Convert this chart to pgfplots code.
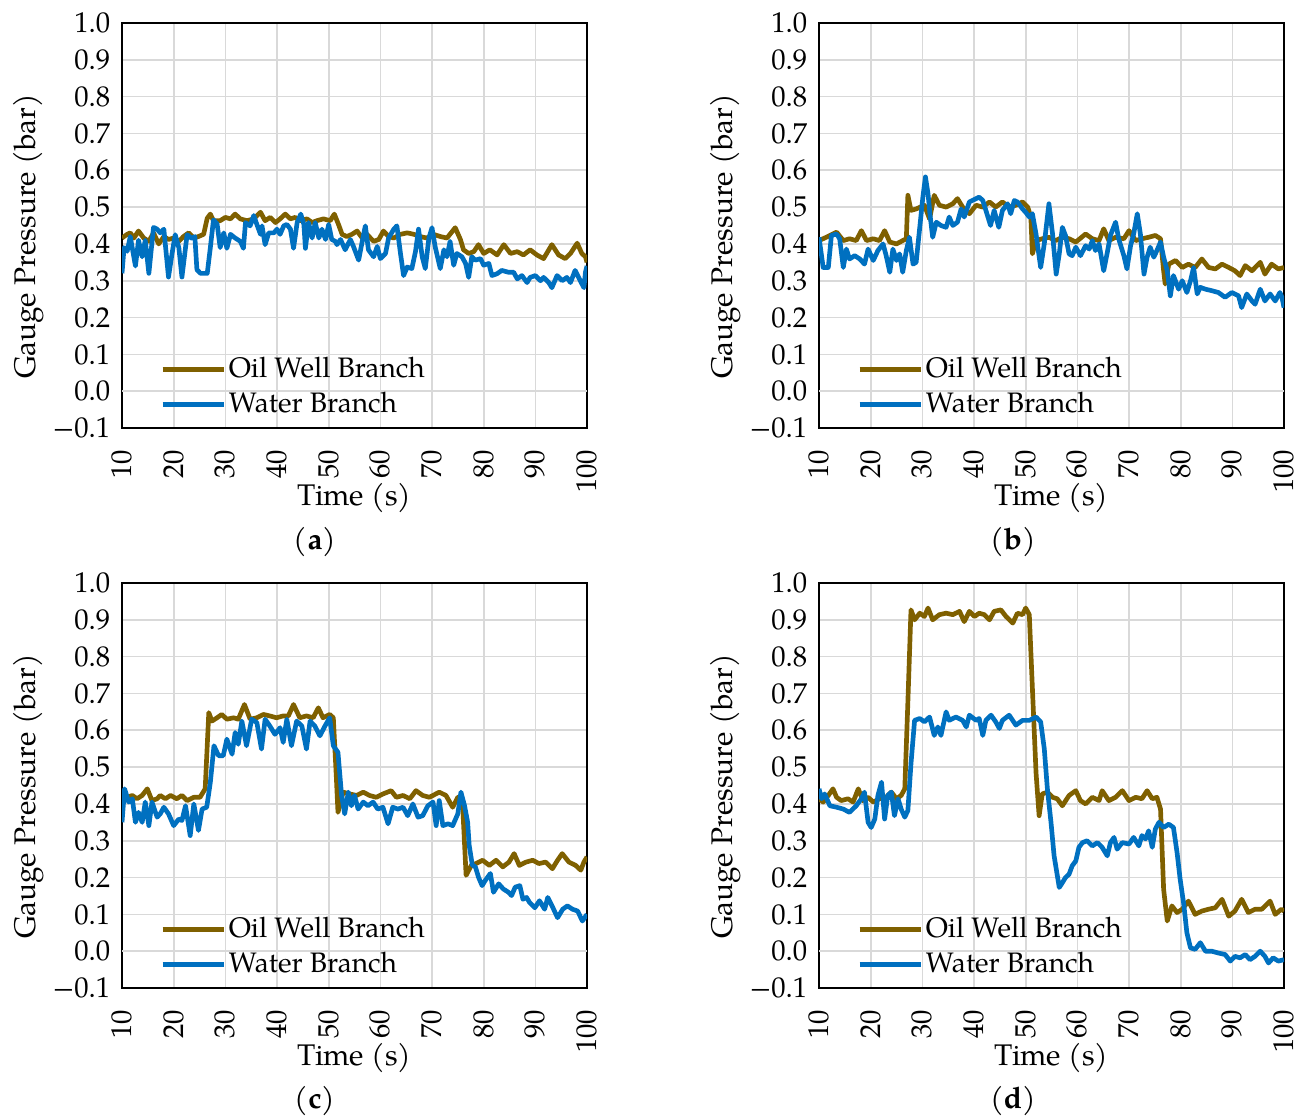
\documentclass[border=0pt]{standalone}
\usepackage{fontspec}
\setmainfont{TeX Gyre Pagella}
\usepackage{pgfplots}
\pgfplotsset{compat=1.18}
\definecolor{oilc}{RGB}{127,96,0}
\definecolor{watc}{RGB}{0,112,192}
\definecolor{gridc}{RGB}{217,217,217}
\definecolor{zeroc}{RGB}{191,191,191}
\newcommand{\tf}{\fontsize{8.6}{10}\selectfont}
\newcommand{\lf}{\fontsize{8.95}{10}\selectfont}
\newcommand{\gf}{\fontsize{8.45}{10}\selectfont}
\pgfplotsset{
  panel/.style={
    scale only axis, width=139.5pt, height=121.5pt,
    xmin=10, xmax=100, ymin=-0.1, ymax=1.0,
    xtick={10,20,30,40,50,60,70,80,90,100},
    xticklabels={10,20,30,40,50,60,70,80,90,100},
    ytick={-0.1,0,0.1,0.2,0.3,0.4,0.5,0.6,0.7,0.8,0.9,1.0},
    yticklabels={−0.1,0.0,0.1,0.2,0.3,0.4,0.5,0.6,0.7,0.8,0.9,1.0},
    /pgf/number format/assume math mode=true,
    grid=major, major grid style={draw=gridc, line width=0.5pt},
    extra y ticks={0}, extra y tick labels={},
    extra y tick style={grid style={draw=zeroc, line width=0.5pt}},
    major tick length=0pt,
    axis line style={line width=0.6pt, black},
    tick label style={font=\tf},
    xticklabel style={rotate=90, anchor=east, font=\tf},
    xticklabel shift=3pt,
    yticklabel style={font=\tf},
    label style={font=\lf},
    xlabel={Time (s)},
    ylabel={Gauge Pressure (bar)},
    xlabel style={at={(axis description cs:0.5,-0.172)}, anchor=center},
    ylabel style={at={(axis description cs:-0.2,0.473)}, anchor=center, rotate=0},
    legend style={at={(axis description cs:0.081,0.009)}, anchor=south west, draw=none, fill=none, font=\gf, inner sep=0pt, row sep=-1.2pt, nodes={inner xsep=0.75pt}},
    legend cell align=left,
    legend image code/.code={\draw[#1] (0pt,0pt) -- (18.4pt,0pt);},
    every axis plot/.append style={line width=1.4pt, no markers, line join=round},
  }
}
\begin{document}
\begin{tikzpicture}
\path[use as bounding box] (0pt,0pt) rectangle (392.4pt,334.5pt);
% ---------- (a)
\begin{axis}[panel, at={(36.6pt,206.1pt)}, anchor=south west]
\addplot[oilc] coordinates {(10,0.416)(11,0.426)(11.6,0.43)(12.3,0.416)(13.2,0.435)(14.2,0.416)(15.2,0.407)(16.1,0.43)(17.1,0.40)(18.1,0.42)(19,0.412)(20,0.416)(21,0.407)(21.9,0.42)(22.9,0.43)(23.9,0.416)(24.8,0.42)(25.8,0.426)(26.5,0.47)(27.1,0.481)(27.7,0.463)(29,0.463)(30,0.472)(31,0.468)(31.9,0.481)(32.9,0.468)(34.2,0.463)(35.5,0.468)(36.8,0.486)(37.7,0.463)(38.7,0.472)(39.7,0.458)(40.6,0.468)(41.6,0.481)(42.6,0.468)(43.5,0.472)(44.5,0.463)(45.8,0.468)(46.8,0.458)(47.7,0.463)(49,0.468)(50.3,0.463)(51.1,0.481)(51.9,0.453)(52.6,0.426)(53.5,0.42)(54.5,0.426)(55.5,0.435)(56.5,0.416)(57.4,0.426)(58.7,0.407)(59.7,0.412)(60.6,0.435)(61.6,0.42)(62.6,0.416)(63.9,0.426)(65.2,0.43)(66.5,0.426)(67.7,0.42)(69,0.416)(70.3,0.426)(71.6,0.42)(72.9,0.416)(74.5,0.444)(75.5,0.412)(76.1,0.384)(77.1,0.374)(78.1,0.379)(79,0.398)(80,0.374)(81.2,0.384)(82.6,0.37)(83.9,0.398)(85.2,0.374)(86.5,0.379)(87.7,0.37)(89,0.384)(90.3,0.37)(91.6,0.36)(93.2,0.398)(94.5,0.37)(95.8,0.36)(96.8,0.374)(98.1,0.402)(99,0.374)(99.7,0.365)(100,0.35)};
\addlegendentry{Oil Well Branch}
\addplot[watc] coordinates {(10,0.32)(10.4,0.39)(11,0.38)(11.6,0.42)(12.6,0.34)(13.2,0.41)(13.9,0.365)(14.5,0.41)(15.2,0.32)(16.1,0.445)(16.8,0.44)(17.4,0.43)(18.1,0.44)(19.0,0.31)(19.7,0.375)(20.3,0.425)(21.0,0.39)(21.6,0.31)(22.6,0.425)(23.5,0.415)(24.1,0.42)(24.5,0.33)(25.2,0.32)(26.5,0.32)(27.1,0.39)(27.7,0.465)(28.4,0.455)(29.0,0.39)(29.7,0.43)(30.3,0.388)(31.0,0.426)(31.9,0.416)(32.9,0.407)(33.5,0.388)(33.9,0.458)(34.8,0.449)(35.5,0.477)(36.1,0.453)(36.8,0.426)(37.1,0.449)(37.7,0.398)(38.4,0.43)(39.4,0.43)(40.0,0.44)(40.6,0.426)(41.3,0.449)(41.9,0.453)(42.6,0.44)(43.2,0.388)(43.9,0.458)(44.6,0.481)(45.2,0.453)(45.5,0.388)(46.1,0.458)(46.8,0.416)(47.4,0.458)(48.1,0.416)(48.7,0.44)(49.4,0.412)(50.0,0.453)(50.6,0.412)(51.3,0.407)(51.6,0.398)(52.3,0.412)(53.2,0.384)(54.2,0.412)(54.8,0.393)(55.8,0.356)(56.5,0.407)(57.1,0.449)(57.7,0.384)(58.7,0.365)(59.4,0.393)(60.0,0.36)(61.0,0.374)(61.6,0.416)(62.6,0.44)(63.2,0.449)(63.9,0.374)(64.5,0.314)(65.2,0.337)(66.1,0.333)(66.8,0.379)(67.4,0.44)(68.1,0.365)(68.7,0.333)(69.4,0.416)(70.0,0.444)(70.6,0.393)(71.6,0.333)(72.3,0.384)(72.9,0.365)(73.5,0.407)(74.2,0.342)(74.8,0.374)(75.8,0.365)(76.5,0.347)(77.1,0.309)(77.7,0.365)(78.4,0.356)(79.4,0.36)(80.0,0.342)(81.0,0.347)(81.6,0.314)(82.6,0.319)(83.5,0.328)(84.8,0.323)(85.8,0.323)(86.5,0.305)(87.4,0.314)(88.4,0.295)(89.0,0.309)(90.0,0.314)(91.0,0.30)(91.6,0.309)(92.6,0.295)(93.2,0.281)(94.2,0.314)(95.2,0.30)(96.1,0.309)(96.8,0.295)(97.7,0.328)(98.7,0.30)(99.4,0.281)(99.7,0.323)(100,0.34)};
\addlegendentry{Water Branch}
\end{axis}
% ---------- (b)
\begin{axis}[panel, at={(245.7pt,206.1pt)}, anchor=south west]
\addplot[oilc] coordinates {(10,0.409)(11.4,0.418)(13.4,0.432)(14.7,0.409)(15.9,0.414)(17.2,0.409)(18.2,0.436)(19.2,0.409)(20.5,0.414)(21.7,0.409)(22.7,0.436)(23.7,0.405)(25,0.4)(26.2,0.409)(26.9,0.414)(27.2,0.532)(27.8,0.491)(28.8,0.495)(30.4,0.505)(31.4,0.468)(32.3,0.532)(33.3,0.505)(34.6,0.5)(35.9,0.509)(36.8,0.523)(37.8,0.5)(39.1,0.482)(40.4,0.505)(41.7,0.5)(43,0.514)(44.2,0.5)(45.5,0.514)(46.8,0.5)(48.1,0.505)(49.4,0.514)(50.4,0.5)(51,0.473)(51.3,0.373)(52,0.409)(53.2,0.414)(54.5,0.418)(55.8,0.409)(57.1,0.418)(58.4,0.414)(59.7,0.405)(61.6,0.427)(62.9,0.414)(64.2,0.409)(65.1,0.441)(66.1,0.409)(67.4,0.418)(69,0.414)(70,0.436)(71.3,0.409)(72.5,0.414)(73.8,0.418)(75.1,0.423)(76.1,0.414)(76.7,0.327)(77,0.291)(77.7,0.345)(79,0.355)(80.3,0.336)(81.5,0.345)(82.8,0.336)(84.1,0.359)(85.4,0.336)(86.7,0.332)(88,0.345)(89.3,0.336)(90.5,0.327)(91.5,0.314)(92.5,0.341)(93.8,0.327)(95.4,0.35)(96.3,0.318)(97.6,0.345)(98.9,0.332)(100,0.336)};
\addlegendentry{Oil Well Branch}
\addplot[watc] coordinates {(10,0.418)(10.8,0.336)(11.8,0.336)(12.4,0.423)(13.4,0.427)(14,0.414)(14.7,0.336)(15.3,0.386)(15.9,0.359)(16.9,0.368)(17.9,0.359)(18.8,0.345)(19.5,0.386)(20.5,0.355)(21.4,0.382)(22.4,0.4)(23,0.368)(23.7,0.323)(24.3,0.386)(25,0.355)(25.6,0.373)(26.2,0.323)(26.9,0.382)(27.5,0.418)(28.2,0.345)(28.8,0.35)(29.5,0.445)(30.1,0.527)(30.6,0.582)(31.1,0.536)(31.5,0.477)(32,0.418)(32.7,0.459)(33.6,0.45)(34.6,0.445)(35.2,0.473)(35.9,0.45)(36.8,0.459)(37.5,0.495)(38.1,0.473)(39.1,0.514)(40.4,0.523)(41,0.527)(41.7,0.518)(42.3,0.491)(43.2,0.45)(43.9,0.491)(44.8,0.445)(45.5,0.491)(46.5,0.509)(47.1,0.482)(47.8,0.518)(48.4,0.514)(49.4,0.495)(50,0.486)(50.7,0.473)(51.3,0.482)(52,0.427)(52.9,0.336)(53.6,0.4)(54.5,0.509)(55.2,0.427)(55.9,0.318)(56.5,0.373)(57.1,0.445)(57.7,0.423)(58.4,0.373)(59,0.368)(59.7,0.391)(60.6,0.368)(61.6,0.395)(62.3,0.386)(62.9,0.409)(63.5,0.382)(64.2,0.4)(65.1,0.327)(65.8,0.377)(66.4,0.423)(67.4,0.459)(68,0.414)(69,0.368)(69.6,0.332)(70.3,0.395)(70.9,0.427)(71.6,0.482)(72.2,0.427)(72.9,0.318)(73.5,0.364)(74.1,0.391)(74.8,0.364)(75.4,0.382)(76.1,0.405)(76.7,0.364)(77.4,0.327)(78,0.259)(78.6,0.314)(79.6,0.277)(80.3,0.3)(81.2,0.268)(81.9,0.3)(82.5,0.336)(83.2,0.264)(83.8,0.282)(84.8,0.277)(86,0.273)(87.3,0.268)(88.6,0.255)(89.9,0.268)(91.2,0.259)(91.8,0.227)(92.8,0.264)(93.8,0.245)(94.4,0.236)(95.4,0.277)(96.3,0.245)(97.3,0.264)(98.3,0.245)(99.2,0.268)(99.6,0.255)(100,0.227)};
\addlegendentry{Water Branch}
\end{axis}
% ---------- (c)
\begin{axis}[panel, at={(36.6pt,38.1pt)}, anchor=south west]
\addplot[oilc] coordinates {(10,0.423)(11,0.418)(12,0.423)(12.9,0.414)(13.9,0.423)(14.9,0.441)(15.8,0.409)(16.8,0.414)(17.4,0.423)(18.4,0.414)(19.4,0.423)(20.6,0.414)(21.6,0.423)(22.6,0.409)(23.9,0.418)(25.1,0.418)(26.1,0.441)(26.8,0.648)(27.4,0.625)(28.4,0.634)(29.3,0.643)(30.3,0.630)(31.6,0.634)(32.5,0.630)(33.7,0.670)(34.8,0.630)(36.1,0.634)(37.4,0.643)(38.6,0.639)(39.9,0.634)(41.2,0.639)(42.2,0.639)(43.2,0.670)(44.4,0.634)(45.7,0.639)(47,0.634)(48,0.661)(48.9,0.634)(50.2,0.643)(50.9,0.634)(51.5,0.468)(51.8,0.377)(52.8,0.432)(54.1,0.427)(55.4,0.423)(56.7,0.432)(57.9,0.423)(59.2,0.418)(60.5,0.427)(62.1,0.436)(63.1,0.418)(64.4,0.423)(65.7,0.414)(66.9,0.436)(68.2,0.423)(69.5,0.418)(71.4,0.432)(72.7,0.423)(74,0.391)(75,0.418)(75.9,0.405)(76.6,0.206)(77.6,0.233)(78.5,0.238)(79.8,0.247)(81.1,0.233)(82.4,0.247)(83.7,0.229)(84.9,0.242)(85.9,0.265)(86.9,0.233)(88.2,0.242)(89.5,0.247)(90.7,0.238)(92,0.242)(93.3,0.224)(94.3,0.247)(95.2,0.265)(96.5,0.242)(97.8,0.233)(98.8,0.22)(99.4,0.242)(100,0.256)};
\addlegendentry{Oil Well Branch}
\addplot[watc] coordinates {(10,0.35)(10.5,0.441)(11.3,0.405)(12,0.414)(12.6,0.35)(13.2,0.377)(13.9,0.35)(14.5,0.405)(15.2,0.341)(15.8,0.405)(16.8,0.364)(17.4,0.373)(18.1,0.391)(19,0.373)(20,0.341)(21,0.359)(21.6,0.355)(22.3,0.395)(23.2,0.314)(23.9,0.4)(24.8,0.328)(25.5,0.386)(26.4,0.391)(27.1,0.459)(27.8,0.558)(28.7,0.531)(29.6,0.531)(30.3,0.576)(31.3,0.535)(31.9,0.594)(32.5,0.562)(33.2,0.625)(34.1,0.558)(35.1,0.630)(36.1,0.621)(37,0.549)(37.7,0.630)(38.6,0.612)(39.6,0.589)(40.6,0.607)(41.2,0.567)(41.9,0.630)(42.8,0.558)(43.8,0.625)(44.8,0.612)(45.7,0.549)(46.4,0.625)(47.3,0.612)(48.3,0.585)(49.3,0.612)(50.2,0.634)(50.9,0.558)(51.8,0.540)(52.5,0.423)(53.1,0.373)(53.8,0.432)(54.4,0.395)(55,0.423)(55.7,0.386)(56.7,0.405)(57.6,0.395)(58.6,0.405)(59.5,0.386)(60.5,0.391)(61.5,0.346)(62.4,0.391)(63.4,0.386)(64.4,0.391)(65.3,0.368)(66.3,0.4)(67.3,0.364)(68.2,0.368)(69.2,0.395)(70.2,0.405)(70.8,0.341)(71.4,0.409)(72.1,0.341)(73.1,0.346)(74,0.341)(75,0.373)(75.6,0.432)(76.3,0.395)(76.9,0.35)(77.2,0.287)(77.8,0.234)(78.4,0.229)(79,0.201)(79.7,0.178)(80.3,0.192)(81.3,0.211)(81.9,0.16)(82.9,0.183)(83.8,0.169)(84.8,0.16)(85.4,0.151)(86.1,0.174)(87,0.178)(87.6,0.141)(88.3,0.146)(88.9,0.132)(89.9,0.118)(90.8,0.137)(91.8,0.114)(92.4,0.146)(93.4,0.118)(94.3,0.091)(95.3,0.114)(96.2,0.123)(97.2,0.114)(98.2,0.109)(99.1,0.082)(100,0.1)};
\addlegendentry{Water Branch}
\end{axis}
% ---------- (d)
\begin{axis}[panel, at={(245.7pt,38.1pt)}, anchor=south west]
\addplot[oilc] coordinates {(10,0.414)(10.8,0.405)(11.8,0.423)(12.7,0.441)(13.4,0.418)(14.3,0.409)(15.6,0.414)(16.6,0.405)(17.6,0.441)(18.5,0.409)(19.5,0.418)(20.5,0.405)(21.7,0.414)(23,0.418)(24,0.432)(25,0.414)(25.9,0.423)(26.6,0.441)(27.2,0.677)(27.8,0.927)(28.5,0.9)(29.5,0.918)(30.4,0.909)(31.1,0.932)(32,0.9)(33.3,0.914)(34.6,0.918)(35.9,0.914)(37.2,0.923)(38.1,0.895)(39.1,0.923)(40.1,0.909)(41,0.918)(42,0.914)(43,0.9)(43.9,0.923)(45.2,0.927)(46.2,0.909)(47.5,0.891)(48.4,0.918)(49.4,0.914)(50,0.932)(50.7,0.914)(51.3,0.714)(52,0.486)(52.6,0.368)(53.2,0.427)(54.2,0.432)(55.2,0.418)(56.1,0.414)(57.1,0.395)(58.4,0.423)(59.7,0.436)(60.6,0.409)(61.6,0.4)(62.9,0.418)(64.2,0.409)(64.8,0.436)(66.1,0.409)(67.4,0.418)(68.7,0.436)(70,0.409)(71.3,0.418)(72.5,0.414)(73.5,0.436)(74.5,0.414)(75.4,0.418)(76.1,0.386)(76.7,0.168)(77.4,0.082)(78.3,0.123)(79.3,0.105)(80.3,0.114)(81.5,0.136)(82.8,0.1)(84.1,0.109)(85.4,0.114)(86.7,0.118)(88,0.141)(89.3,0.095)(90.5,0.109)(91.8,0.141)(93.1,0.105)(94.4,0.114)(95.7,0.114)(97.3,0.136)(98.3,0.1)(99.5,0.114)(100,0.109)};
\addlegendentry{Oil Well Branch}
\addplot[watc] coordinates {(10,0.441)(10.5,0.414)(11.1,0.427)(12.1,0.395)(13.4,0.391)(14.7,0.386)(15.9,0.377)(17.2,0.395)(18.2,0.414)(18.8,0.432)(19.5,0.35)(20.1,0.336)(20.8,0.359)(21.4,0.423)(22.1,0.459)(22.7,0.359)(23.3,0.423)(24,0.432)(24.6,0.368)(25.3,0.414)(25.9,0.386)(26.6,0.364)(27.2,0.382)(27.8,0.509)(28.5,0.627)(29.5,0.632)(30.4,0.623)(31.4,0.636)(32.3,0.586)(33,0.609)(33.6,0.586)(34.6,0.65)(35.2,0.627)(36.5,0.636)(37.8,0.627)(38.5,0.609)(39.1,0.641)(40.4,0.627)(41,0.632)(41.7,0.586)(42.3,0.627)(43.3,0.641)(44.2,0.623)(44.9,0.605)(45.5,0.627)(46.8,0.641)(48.1,0.614)(49.4,0.627)(50.7,0.627)(52,0.636)(52.9,0.623)(53.6,0.55)(54.2,0.441)(54.9,0.35)(55.5,0.259)(56.5,0.173)(57.1,0.186)(57.7,0.2)(58.4,0.209)(59,0.232)(59.7,0.245)(60.3,0.282)(61,0.295)(61.9,0.3)(62.9,0.286)(63.9,0.295)(64.8,0.282)(65.8,0.259)(66.4,0.295)(67.1,0.309)(67.7,0.277)(68.7,0.295)(70,0.291)(70.9,0.309)(71.9,0.286)(72.5,0.314)(73.2,0.305)(73.8,0.327)(74.5,0.282)(75.1,0.332)(75.8,0.35)(76.7,0.336)(77.7,0.345)(78.6,0.336)(79.3,0.268)(79.9,0.195)(80.6,0.127)(81.2,0.05)(81.9,0.009)(82.8,0.005)(83.8,0.023)(84.8,0.0)(86,0.0)(87.3,-0.005)(88.6,-0.009)(89.6,-0.027)(90.5,-0.014)(91.5,-0.018)(92.5,-0.009)(93.4,-0.023)(94.4,-0.014)(95.4,0.0)(96.3,-0.014)(97,-0.032)(97.9,-0.018)(98.9,-0.027)(100,-0.023)};
\addlegendentry{Water Branch}
\end{axis}
\node[font=\lf] at (94.5pt,171.9pt) {(\textbf{a})};
\node[font=\lf] at (303.9pt,171.9pt) {(\textbf{b})};
\node[font=\lf] at (94.5pt,4.2pt) {(\textbf{c})};
\node[font=\lf] at (303.9pt,4.2pt) {(\textbf{d})};
\end{tikzpicture}
\end{document}
